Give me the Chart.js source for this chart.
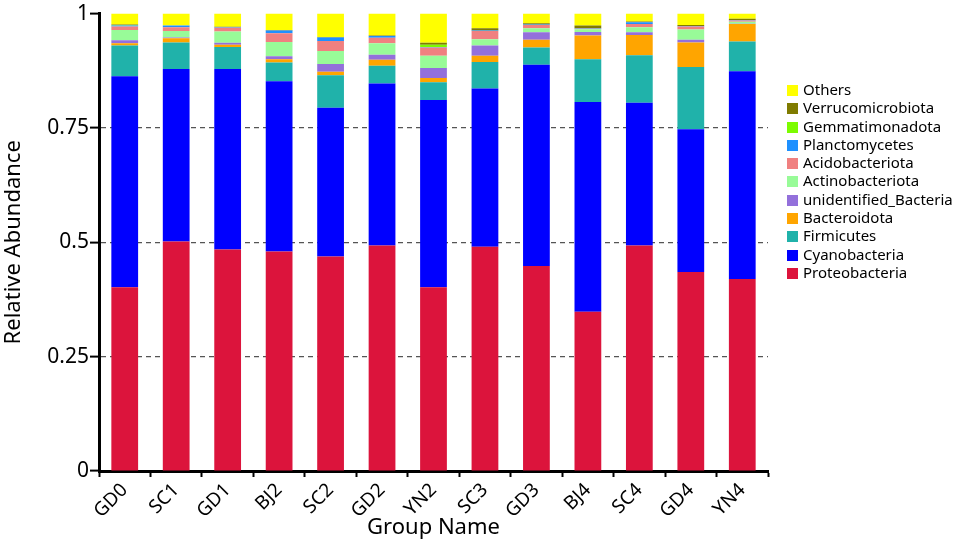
<!DOCTYPE html>
<html>
<head>
<meta charset="utf-8">
<script src="https://cdn.jsdelivr.net/npm/chart.js@4.4.1/dist/chart.umd.min.js"></script>
<style>
  html, body { margin: 0; padding: 0; background: #fff; }
  #wrap { position: relative; width: 957px; height: 548px; }
  #legend { position: absolute; left: 787px; top: 80px; font-family: "Noto Sans", sans-serif; font-size: 15px; color: #000; }
  #legend div { height: 18.3px; line-height: 19px; white-space: nowrap; }
  #legend span.box { display: inline-block; width: 11px; height: 11px; margin-right: 5px; vertical-align: -1px; }
</style>
</head>
<body>
<div id="wrap">
  <canvas id="chart"></canvas>
  <div id="legend"></div>
</div>
<script>
// samples on the x axis
const groups = ["GD0", "SC1", "GD1", "BJ2", "SC2", "GD2", "YN2", "SC3", "GD3", "BJ4", "SC4", "GD4", "YN4"];

// relative abundance per phylum, same order as groups
const proteobacteria    = [0.402, 0.502, 0.484, 0.480, 0.469, 0.493, 0.402, 0.490, 0.448, 0.348, 0.493, 0.435, 0.420];
const cyanobacteria     = [0.461, 0.377, 0.395, 0.372, 0.325, 0.354, 0.409, 0.346, 0.440, 0.459, 0.312, 0.312, 0.454];
const firmicutes        = [0.067, 0.058, 0.048, 0.041, 0.071, 0.039, 0.039, 0.058, 0.038, 0.093, 0.104, 0.136, 0.065];
const bacteroidota      = [0.005, 0.009, 0.005, 0.007, 0.008, 0.013, 0.009, 0.014, 0.017, 0.052, 0.044, 0.054, 0.038];
const unidentified      = [0.007, 0.002, 0.004, 0.007, 0.017, 0.011, 0.022, 0.022, 0.016, 0.008, 0.006, 0.006, 0.001];
const actinobacteriota  = [0.022, 0.014, 0.025, 0.031, 0.028, 0.025, 0.027, 0.014, 0.009, 0.006, 0.011, 0.022, 0.004];
const acidobacteriota   = [0.008, 0.008, 0.008, 0.019, 0.022, 0.012, 0.018, 0.018, 0.007, 0.001, 0.007, 0.007, 0.003];
const planctomycetes    = [0.002, 0.004, 0.001, 0.006, 0.008, 0.004, 0.001, 0.001, 0.001, 0.001, 0.004, 0.001, 0.001];
const gemmatimonadota   = [0.001, 0.000, 0.000, 0.000, 0.000, 0.000, 0.005, 0.000, 0.000, 0.000, 0.000, 0.000, 0.000];
const verrucomicrobiota = [0.001, 0.000, 0.001, 0.001, 0.001, 0.001, 0.004, 0.005, 0.003, 0.006, 0.002, 0.002, 0.003];
const others            = [0.024, 0.026, 0.029, 0.036, 0.051, 0.048, 0.064, 0.032, 0.021, 0.026, 0.017, 0.025, 0.011];

const yTicks = [0, 0.25, 0.5, 0.75, 1];
const yTickLabels = ["0", "0.25", "0.5", "0.75", "1"];

const series = [
  { label: "Proteobacteria", data: proteobacteria, color: "#dc143c" },
  { label: "Cyanobacteria", data: cyanobacteria, color: "#0000ff" },
  { label: "Firmicutes", data: firmicutes, color: "#20b2aa" },
  { label: "Bacteroidota", data: bacteroidota, color: "#ffa500" },
  { label: "unidentified_Bacteria", data: unidentified, color: "#9370db" },
  { label: "Actinobacteriota", data: actinobacteriota, color: "#98fb98" },
  { label: "Acidobacteriota", data: acidobacteriota, color: "#f08080" },
  { label: "Planctomycetes", data: planctomycetes, color: "#1e90ff" },
  { label: "Gemmatimonadota", data: gemmatimonadota, color: "#7cfc00" },
  { label: "Verrucomicrobiota", data: verrucomicrobiota, color: "#7f7b00" },
  { label: "Others", data: others, color: "#ffff00" }
];

const font = "'Noto Sans', sans-serif";

new Chart(document.getElementById("chart"), {
  type: "bar",
  data: {
    labels: groups,
    datasets: series.map(s => ({
      label: s.label,
      data: s.data,
      backgroundColor: s.color,
      borderWidth: 0,
      categoryPercentage: 1,
      barPercentage: 0.52
    }))
  },
  options: {
    responsive: true,
    maintainAspectRatio: false,
    animation: false,
    layout: { padding: { left: 0, right: 189, top: 12, bottom: 0 } },
    plugins: { legend: { display: false }, tooltip: { enabled: false } },
    scales: {
      x: {
        stacked: true,
        afterFit: scale => { scale.height = 77; },
        border: { color: "#000", width: 3 },
        grid: { offset: true, drawOnChartArea: false, drawTicks: true, tickLength: 6, tickColor: "#000", tickWidth: 2 },
        ticks: { color: "#000", font: { family: font, size: 19 }, minRotation: 45, maxRotation: 45, padding: 2, autoSkip: false },
        title: { display: true, text: "Group Name", color: "#000", font: { family: font, size: 22 }, padding: { top: 0, bottom: 7 } }
      },
      y: {
        stacked: true,
        min: 0,
        max: 1,
        afterFit: scale => { scale.width = 99; },
        afterBuildTicks: scale => { scale.ticks = yTicks.map(v => ({ value: v })); },
        border: { color: "#000", width: 3, dash: [5, 4] },
        grid: {
          color: ctx => (ctx.tick && ctx.tick.value > 0 && ctx.tick.value < 1) ? "#555" : "rgba(0,0,0,0)",
          lineWidth: 1.2,
          tickColor: "#000",
          tickWidth: 2,
          tickLength: 9,
          tickBorderDash: []
        },
        ticks: {
          color: "#000",
          font: { family: font, size: 21 },
          padding: 1,
          callback: value => yTickLabels[yTicks.indexOf(value)]
        },
        title: { display: true, text: "Relative Abundance", color: "#000", font: { family: font, size: 22 }, padding: { top: 1, bottom: 0 } }
      }
    }
  }
});

// legend, top entry first
const legendEl = document.getElementById("legend");
series.slice().reverse().forEach(s => {
  const row = document.createElement("div");
  const box = document.createElement("span");
  box.className = "box";
  box.style.background = s.color;
  row.appendChild(box);
  row.appendChild(document.createTextNode(s.label));
  legendEl.appendChild(row);
});
</script>
</body>
</html>
